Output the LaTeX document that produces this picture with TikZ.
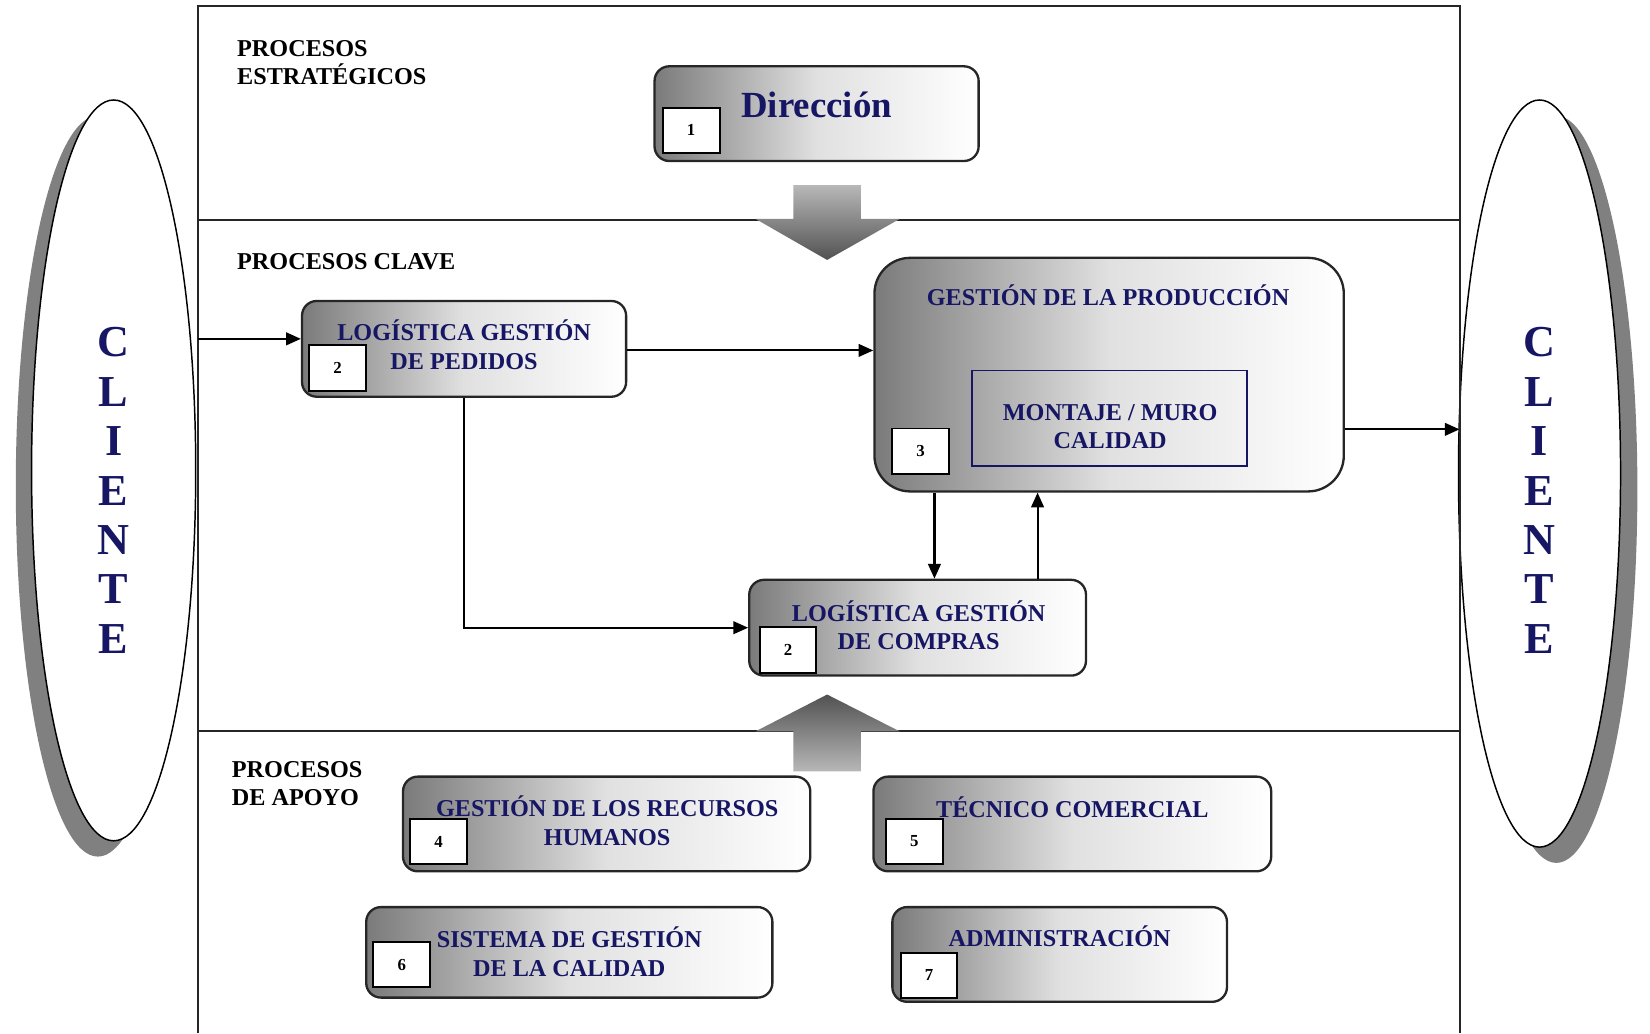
\documentclass[tikz,border=0pt]{standalone}
\usepackage{fontspec}
\setmainfont{Liberation Serif}
\usetikzlibrary{shapes.geometric,arrows.meta}
\definecolor{navy}{RGB}{22,22,100}
\begin{document}
\begin{tikzpicture}[x=0.5pt,y=-0.5pt,
  procbox/.style={draw=black!85, line width=1.1pt, rounded corners=7pt,
    left color=black!52, right color=white, middle color=black!12, inner sep=0pt},
  numbox/.style={draw=black, line width=0.9pt, fill=white, minimum width=27pt,
    minimum height=21.5pt, inner sep=0pt, anchor=south west,
    font=\bfseries\fontsize{8}{9}\selectfont},
  boxtext/.style={text=navy, font=\bfseries\fontsize{11.5}{13.5}\selectfont, align=center, inner sep=0pt},
  seclabel/.style={font=\bfseries\fontsize{11.5}{13.5}\selectfont, align=left, anchor=west, inner sep=0pt},
  conn/.style={-{Triangle[length=7pt,width=6pt]}, line width=1pt},
  frame/.style={line width=1pt, black!85},
  clientell/.style={ellipse, draw=black, line width=0.7pt, fill=white, inner sep=0pt},
  shadowell/.style={ellipse, fill=black!50, inner sep=0pt},
  clientxt/.style={text=navy, font=\bfseries\fontsize{21}{23.5}\selectfont, align=center, inner sep=0pt}
]
\useasboundingbox (0,0) rectangle (1568,982);

% client ellipses
\node[shadowell, minimum width=78pt, minimum height=352pt] (shL) at (93,462) {};
\node[clientell, minimum width=78pt, minimum height=352pt] (ellL) at (108,447) {};
\node[clientxt] (cliL) at (108,466) {C\\L\\I\\E\\N\\T\\E};
\node[shadowell, minimum width=77pt, minimum height=355pt] (shR) at (1479,465) {};
\node[clientell, minimum width=77pt, minimum height=355pt] (ellR) at (1463,450) {};
\node[clientxt] (cliR) at (1463,466) {C\\L\\I\\E\\N\\T\\E};

% frame
\draw[frame] (188,982) -- (188,6) -- (1387,6) -- (1387,982);
\draw[frame] (188,209) -- (1387,209);
\draw[frame] (188,695) -- (1387,695);

% section labels
\node[seclabel] (lab1) at (225,59.5) {PROCESOS\\ESTRATÉGICOS};
\node[seclabel] (lab2) at (225,249) {PROCESOS CLAVE};
\node[seclabel] (lab3) at (220,744.5) {PROCESOS\\DE APOYO};

% block arrows
\shade[top color=black!28, bottom color=black!68]
  (754,176) -- (818,176) -- (818,208) -- (855,208) -- (786,247) -- (718,208) -- (754,208) -- cycle;
\shade[top color=black!68, bottom color=black!28]
  (786,660) -- (855,695) -- (818,695) -- (818,733) -- (754,733) -- (754,695) -- (718,695) -- cycle;

% boxes
\node[procbox, minimum width=154pt, minimum height=45pt] (b1) at (776,108) {};
\node[text=navy, font=\bfseries\fontsize{17.5}{20}\selectfont, inner sep=0pt] (t1) at (776,100) {Dirección};
\node[numbox] (n1) at ([shift={(8,-8)}]b1.south west) {1};

\node[procbox, minimum width=154pt, minimum height=45.5pt] (b2) at (441,331.5) {};
\node[boxtext] (t2) at (441,327.5) {LOGÍSTICA GESTIÓN\\DE PEDIDOS};
\node[numbox] (n2) at ([shift={(7,-6)}]b2.south west) {2};

\node[procbox, rounded corners=17pt, minimum width=223pt, minimum height=111pt] (b3) at (1054,356) {};
\node[boxtext] (t3) at (1053,281) {GESTIÓN DE LA PRODUCCIÓN};
\node[draw=navy, line width=0.8pt, minimum width=130.5pt, minimum height=45.5pt, inner sep=0pt] (m3) at (1054.5,397.5) {};
\node[boxtext] (t3b) at (1055,405.5) {MONTAJE / MURO\\CALIDAD};
\node[numbox] (n3) at ([shift={(17,-17)}]b3.south west) {3};

\node[procbox, minimum width=160pt, minimum height=45.5pt] (b4) at (872,596.5) {};
\node[boxtext] (t4) at (873,594) {LOGÍSTICA GESTIÓN\\DE COMPRAS};
\node[numbox] (n4) at ([shift={(10,-3)}]b4.south west) {2};

\node[procbox, minimum width=193.5pt, minimum height=45pt] (b5) at (576.5,783) {};
\node[boxtext] (t5) at (577,780) {GESTIÓN DE LOS RECURSOS\\HUMANOS};
\node[numbox] (n5) at ([shift={(7,-7)}]b5.south west) {4};

\node[procbox, minimum width=189pt, minimum height=45pt] (b6) at (1019,783) {};
\node[boxtext] (t6) at (1019,767) {TÉCNICO COMERCIAL};
\node[numbox] (n6) at ([shift={(12,-7)}]b6.south west) {5};

\node[procbox, minimum width=193pt, minimum height=43pt] (b7) at (541,905) {};
\node[boxtext] (t7) at (541,904.5) {SISTEMA DE GESTIÓN\\DE LA CALIDAD};
\node[numbox] (n7) at ([shift={(7,-10)}]b7.south west) {6};

\node[procbox, minimum width=159pt, minimum height=45pt] (b8) at (1007,907) {};
\node[boxtext] (t8) at (1007,890) {ADMINISTRACIÓN};
\node[numbox] (n8) at ([shift={(8,-4)}]b8.south west) {7};

% connectors
\coordinate (inL) at (188,322);
\coordinate (outR) at (1387,408);
\draw[conn] (inL) -- (inL -| b2.west);
\draw[conn] ([yshift=-0.75pt]b2.east) -- ([yshift=-0.75pt]b2.east -| b3.west);
\draw[conn] (b2.south) |- (b4.west);
\draw[conn] ([xshift=-83pt]b3.south) -- ([xshift=-83pt]b3.south |- b4.north);
\draw[conn] ([xshift=57pt]b4.north) -- ([xshift=57pt]b4.north |- b3.south);
\draw[conn] (b3.east |- outR) -- (outR);
\end{tikzpicture}
\end{document}
